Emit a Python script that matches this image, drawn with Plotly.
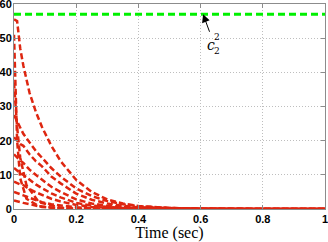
import plotly.graph_objects as go

# time samples (sec)
t = [0, 0.01, 0.02, 0.03, 0.05, 0.07, 0.09, 0.12, 0.15, 0.2, 0.25, 0.3, 0.35, 0.4, 0.5, 0.6, 0.8, 1.0]
curve_a = [55.5, 55, 47, 42, 34, 28.5, 24, 18.5, 14, 8.5, 5, 2.8, 1.6, 0.9, 0.3, 0.1, 0.02, 0]
curve_b = [27.5, 25.5, 23.5, 22, 19.5, 17, 15, 12, 9.5, 6, 3.8, 2.3, 1.4, 0.8, 0.3, 0.1, 0.02, 0]
curve_c = [21, 20, 19, 18.5, 16, 14, 12.5, 9.5, 7.5, 4.5, 2.7, 1.6, 0.9, 0.5, 0.2, 0.06, 0.01, 0]
curve_d = [16, 15, 14.2, 13.5, 11.5, 10, 8.5, 6.5, 5, 2.8, 1.6, 0.9, 0.5, 0.3, 0.1, 0.03, 0, 0]
curve_e = [12, 11.2, 10.5, 10, 8.5, 7.2, 6.1, 4.6, 3.4, 1.8, 1.0, 0.6, 0.3, 0.18, 0.05, 0.02, 0, 0]
curve_f = [8, 7.5, 7.2, 7, 5.8, 4.9, 4.1, 3.0, 2.2, 1.2, 0.6, 0.35, 0.2, 0.1, 0.03, 0.01, 0, 0]
curve_g = [5, 4.6, 4.3, 4, 3.3, 2.6, 2.0, 1.4, 1.0, 0.5, 0.25, 0.12, 0.06, 0.03, 0.01, 0, 0, 0]
curve_h = [2.5, 2.2, 2.0, 1.8, 1.4, 1.0, 0.6, 0.4, 0.25, 0.1, 0.05, 0.02, 0.01, 0, 0, 0, 0, 0]

# fast-decaying trajectories
t_fast = [0, 0.003, 0.006, 0.01, 0.02, 0.04, 0.08, 0.15, 0.3, 1.0]
curve_v1 = [51, 40, 30, 20, 9, 3, 0.8, 0.2, 0, 0]
curve_v2 = [37, 33, 29, 24, 15, 7, 2, 0.4, 0, 0]

# bound
bound_t = [0, 1]
bound_val = [57, 57]

x_ticks = [0, 0.2, 0.4, 0.6, 0.8, 1]
x_ticklabels = ["0", "0.2", "0.4", "0.6", "0.8", "1"]
y_ticks = [0, 10, 20, 30, 40, 50, 60]
y_ticklabels = ["0", "10", "20", "30", "40", "50", "60"]

RED = "rgb(222,38,16)"
GREEN = "rgb(0,240,0)"

fig = go.Figure()
fig.add_trace(go.Scatter(x=bound_t, y=bound_val, mode="lines",
                         line=dict(color=GREEN, width=3, dash="7px,4px"), hoverinfo="skip"))
for ys in [curve_a, curve_b, curve_c, curve_d, curve_e, curve_f, curve_g, curve_h]:
    fig.add_trace(go.Scatter(x=t, y=ys, mode="lines",
                             line=dict(color=RED, width=2.5, dash="6px,3px"), hoverinfo="skip"))
for ys in [curve_v1, curve_v2]:
    fig.add_trace(go.Scatter(x=t_fast, y=ys, mode="lines",
                             line=dict(color=RED, width=2.5, dash="6px,3px"), hoverinfo="skip"))

axis_common = dict(showline=True, linecolor="rgb(140,140,140)", linewidth=1, mirror="ticks",
                   ticks="inside", ticklen=4, tickcolor="rgb(140,140,140)",
                   showgrid=True, gridcolor="rgb(190,190,190)", griddash="1px,2px", gridwidth=1,
                   zeroline=False, automargin=False, ticklabeloverflow="allow",
                   tickfont=dict(family="Liberation Sans, Arial", size=11, color="black", weight="bold"))

fig.update_xaxes(range=[0, 1], tickvals=x_ticks, ticktext=x_ticklabels,
                 title=dict(text="Time (sec)", font=dict(family="Liberation Serif, serif", size=16, color="black"),
                            standoff=0), **axis_common)
fig.update_yaxes(range=[0, 60], tickvals=y_ticks, ticktext=y_ticklabels, ticklabelstandoff=-1, **axis_common)

fig.add_annotation(x=0.608, y=57, xref="x", yref="y", text="", showarrow=True,
                   ax=7, ay=19, arrowhead=2, arrowsize=1.6, arrowwidth=1, arrowcolor="black")
fig.add_annotation(x=0.633, y=47.9, xref="x", yref="y", text="<i>c</i>", showarrow=False,
                   font=dict(family="DejaVu Serif, serif", size=14, color="black"))
fig.add_annotation(x=0.652, y=50.4, xref="x", yref="y", text="2", showarrow=False,
                   font=dict(family="DejaVu Serif, serif", size=9, color="black"))
fig.add_annotation(x=0.652, y=46.1, xref="x", yref="y", text="2", showarrow=False,
                   font=dict(family="DejaVu Serif, serif", size=9, color="black"))

fig.update_layout(width=328, height=242, margin=dict(l=14, r=3, t=4, b=33),
                  plot_bgcolor="white", paper_bgcolor="white", showlegend=False)

fig.write_html("out.html", config={"displayModeBar": False},
               post_script="document.body.style.margin='0';document.body.style.overflow='hidden';")
